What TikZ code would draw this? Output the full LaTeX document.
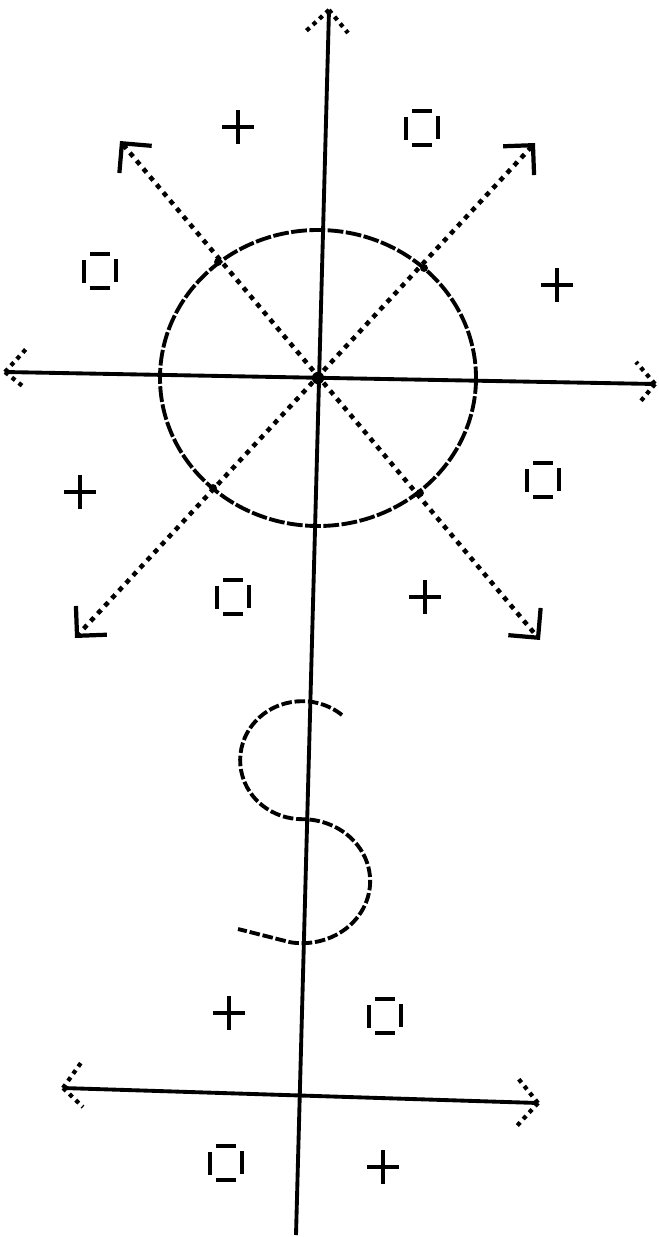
\documentclass[tikz,border=0pt]{standalone}
\usetikzlibrary{arrows.meta}
\tikzset{
    axisline/.style={line width=2.2pt, color=black},
    dotline/.style={line width=2.6pt, dash pattern=on 2.8pt off 3.1pt, color=black},
    barb/.style={line width=2.4pt, dash pattern=on 2.4pt off 2.6pt, color=black},
    corner/.style={{Straight Barb[angle=90:17pt, line width=2.4pt]}-{Straight Barb[angle=90:17pt, line width=2.4pt]}},
    ring/.style={line width=2.2pt, dash pattern=on 9pt off 1.4pt, color=black},
    sline/.style={line width=2.2pt, dash pattern=on 6pt off 1.6pt, color=black},
    dot/.style={circle, fill=black, inner sep=0pt, minimum size=4.5pt},
    plus/.pic={\draw[line width=2.2pt] (-16,0) -- (16,0) (0,-17) -- (0,17);},
    box/.pic={\draw[line width=2.6pt] (-10,-17) -- (10,-17) (-10,17) -- (10,17)
        (-16,-11) -- (-16,12) (16,-12) -- (16,11);},
}
\begin{document}
\begin{tikzpicture}[x=0.02cm, y=-0.02cm]
    \fill[white] (0,0) rectangle (659,1237);
    \useasboundingbox (0,0) rectangle (659,1237);

    % axes and diagonals
    \coordinate (vtop) at (329,10);
    \coordinate (vbot) at (296,1235);
    \coordinate (hleft) at (5,372);
    \coordinate (hright) at (655,384);
    \coordinate (nw) at (120,141);
    \coordinate (se) at (540,640);
    \coordinate (ne) at (535,143);
    \coordinate (sw) at (75,638);
    \coordinate (bleft) at (63,1088);
    \coordinate (bright) at (538,1103);

    \draw[axisline] (vtop) -- (vbot);
    \draw[axisline] (hleft) -- (hright);
    \draw[axisline] (bleft) -- (bright);
    \draw[dotline, corner] (nw) -- (se);
    \draw[dotline, corner] (ne) -- (sw);

    \draw[barb] (vtop) -- ++(-24,22) (vtop) -- ++(19,23);
    \draw[barb] (hleft) -- ++(22,-24) (hleft) -- ++(20,16);
    \draw[barb] (hright) -- ++(-19,-22) (hright) -- ++(-15,18);
    \draw[barb] (bleft) -- ++(20,-28) (bleft) -- ++(20,19);
    \draw[barb] (bright) -- ++(-21,-26) (bright) -- ++(-23,25);

    % circle round the origin
    \node[circle, fill=black, inner sep=0pt, minimum size=7pt] (o) at (318,378) {};
    \draw[ring] (o.center) ellipse[x radius=158, y radius=148];
    \node[dot] (c1) at (218,262) {};
    \node[dot] (c2) at (424,268) {};
    \node[dot] (c3) at (213,488) {};
    \node[dot] (c4) at (420,493) {};

    % S curve
    \coordinate (stop) at (342,715);
    \draw[sline] (stop) arc[start angle=-50, end angle=-270, x radius=62, y radius=59]
        arc[start angle=-90, end angle=100, x radius=68, y radius=62] -- (238,929);

    % signs
    \pic (p1) at (238,127) {plus};
    \pic (q1) at (422,128) {box};
    \pic (q2) at (100,271) {box};
    \pic (p2) at (557,285) {plus};
    \pic (p3) at (80,492) {plus};
    \pic (q3) at (543,480) {box};
    \pic (q4) at (233,597) {box};
    \pic (p4) at (425,597) {plus};
    \pic (p5) at (229,1013) {plus};
    \pic (q5) at (385,1016) {box};
    \pic (q6) at (226,1163) {box};
    \pic (p6) at (383,1167) {plus};
\end{tikzpicture}
\end{document}
